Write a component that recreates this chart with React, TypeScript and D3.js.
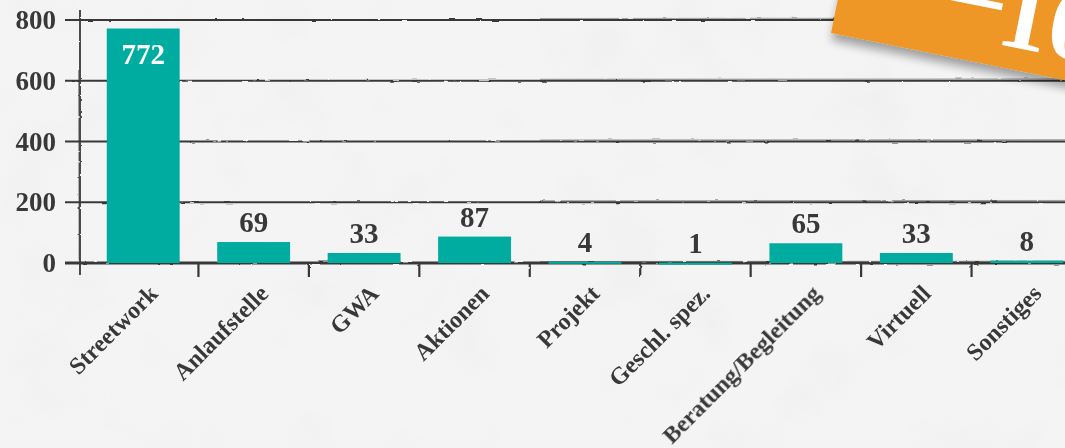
import * as d3 from 'd3';

const width = 1065;
const height = 448;

// Einsätze nach Art
const categories = [
  'Streetwork',
  'Anlaufstelle',
  'GWA',
  'Aktionen',
  'Projekt',
  'Geschl. spez.',
  'Beratung/Begleitung',
  'Virtuell',
  'Sonstiges',
];
const counts = [772, 69, 33, 87, 4, 1, 65, 33, 8];
const yTicks = [0, 200, 400, 600, 800];
const bannerText = ['–', '10'];

const teal = '#00aba0';
const ink = '#383838';
const font = '"Liberation Serif", "Times New Roman", serif';

export default function App() {
  const x = d3.scaleBand(categories, [88, 1082]).paddingInner(0.34).paddingOuter(0.17);
  const y = d3.scaleLinear([0, 800], [263, 20]);
  const gap = x.step() - x.bandwidth();
  const y0 = y(0);

  return (
    <svg
      width={width}
      height={height}
      style={{ position: 'absolute', left: 0, top: 0 }}
      fontFamily={font}
    >
      <defs>
        <filter id="paper" x="0" y="0" width="100%" height="100%">
          <feTurbulence type="fractalNoise" baseFrequency="0.012" numOctaves="4" seed="7" />
          <feColorMatrix
            type="matrix"
            values="0 0 0 0 0.6  0 0 0 0 0.6  0 0 0 0 0.6  1.1 0 0 0 -0.55"
          />
        </filter>
        <filter id="rough" x="-2%" y="-50%" width="104%" height="200%">
          <feTurbulence type="fractalNoise" baseFrequency="0.08 0.3" numOctaves="2" seed="3" result="n" />
          <feDisplacementMap in="SourceGraphic" in2="n" scale="2.2" />
        </filter>
        <filter id="shadow" x="-10%" y="-10%" width="130%" height="150%">
          <feDropShadow dx="2" dy="7" stdDeviation="5" floodColor="#000" floodOpacity="0.35" />
        </filter>
      </defs>

      {/* background */}
      <rect width={width} height={height} fill="#f4f4f4" />
      <rect width={width} height={height} filter="url(#paper)" opacity={0.22} />

      {/* grid */}
      <g filter="url(#rough)" stroke={ink} fill="none">
        {yTicks.map((t) => (
          <g key={t}>
            <line x1={65} x2={width} y1={y(t)} y2={y(t)} strokeWidth={t === 0 ? 3 : 1.9} />
            <line
              x1={540}
              x2={width}
              y1={y(t) - 1.5}
              y2={y(t) - 1.8}
              strokeWidth={1}
              opacity={0.45}
            />
          </g>
        ))}
        <line x1={80} x2={80} y1={10} y2={275} strokeWidth={1.8} />
        <line x1={78.5} x2={79} y1={70} y2={260} strokeWidth={1} opacity={0.5} />
        {categories.slice(1).map((c) => (
          <line
            key={c}
            x1={(x(c) ?? 0) - gap / 2}
            x2={(x(c) ?? 0) - gap / 2}
            y1={y0}
            y2={y0 + 14}
            strokeWidth={2.2}
          />
        ))}
      </g>

      {/* y tick labels */}
      <g fontSize={27} fontWeight={700} fill={ink} textAnchor="end">
        {yTicks.map((t) => (
          <text key={t} x={56} y={y(t) + 9}>
            {t}
          </text>
        ))}
      </g>

      {/* bars */}
      <g>
        {categories.map((c, i) => (
          <rect
            key={c}
            x={x(c)}
            y={y(counts[i])}
            width={x.bandwidth()}
            height={Math.max(y0 - y(counts[i]), 2)}
            fill={teal}
          />
        ))}
      </g>

      {/* value labels */}
      <g fontSize={29} fontWeight={700} textAnchor="middle">
        {categories.map((c, i) => {
          const inside = y0 - y(counts[i]) > 60;
          return (
            <text
              key={c}
              x={(x(c) ?? 0) + x.bandwidth() / 2}
              y={inside ? y(counts[i]) + 35 : y(counts[i]) - 10}
              fill={inside ? '#fff' : ink}
            >
              {counts[i]}
            </text>
          );
        })}
      </g>

      {/* category labels */}
      <g fontSize={24} fontWeight={700} fill={ink} textAnchor="end">
        {categories.map((c) => {
          const cx = (x(c) ?? 0) + x.bandwidth() / 2 + 16;
          return (
            <text key={c} transform={`translate(${cx},${y0 + 32}) rotate(-45)`}>
              {c}
            </text>
          );
        })}
      </g>

      {/* banner */}
      <g transform="translate(831,33) rotate(11.4)">
        <rect x={0} y={-160} width={520} height={160} fill="#ee9627" filter="url(#shadow)" />
        <text x={112} y={-22} fontSize={100} fontWeight={700} fill="#fff">
          <tspan dy={-14}>{bannerText[0]}</tspan>
          <tspan dy={14}>{bannerText[1]}</tspan>
        </text>
      </g>
    </svg>
  );
}
